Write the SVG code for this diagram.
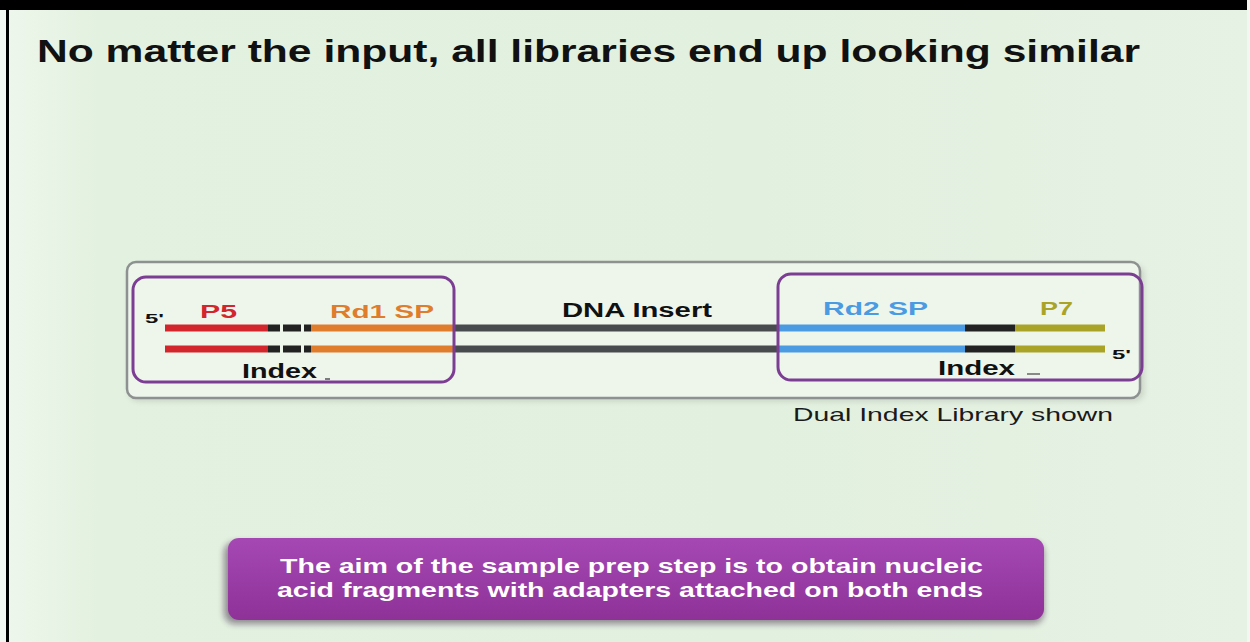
<svg xmlns="http://www.w3.org/2000/svg" width="1250" height="642" viewBox="0 0 1250 642">
  <defs>
    <linearGradient id="slideBg" x1="0" y1="0" x2="1" y2="0">
      <stop offset="0" stop-color="#eef7ec"/>
      <stop offset="0.08" stop-color="#e3f1e0"/>
      <stop offset="0.6" stop-color="#e2f0df"/>
      <stop offset="1" stop-color="#e6f2e4"/>
    </linearGradient>
    <linearGradient id="noteFill" x1="0" y1="0" x2="0" y2="1">
      <stop offset="0" stop-color="#a548b4"/>
      <stop offset="1" stop-color="#8e3298"/>
    </linearGradient>
    <filter id="softShadow" x="-5%" y="-20%" width="110%" height="150%">
      <feGaussianBlur stdDeviation="3"/>
    </filter>
  </defs>
  <style>
    .label { font-family: "Liberation Sans", Arial, sans-serif; font-weight: bold; }
    .plain { font-family: "Liberation Sans", Arial, sans-serif; }
    .adapter { fill: none; stroke: #7b3e92; stroke-width: 3; }
    .strand { stroke-width: 7; fill: none; }
    .p5 { stroke: #d3262c; }
    .rd1 { stroke: #e07d2c; }
    .insert { stroke: #484b4e; }
    .rd2 { stroke: #4b9be3; }
    .idx { stroke: #222222; }
    .p7 { stroke: #a9a427; }
  </style>

  <!-- slide background and frame -->
  <rect x="0" y="0" width="1250" height="642" fill="url(#slideBg)"/>
  <rect x="0" y="0" width="1250" height="10" fill="#000"/>
  <rect x="6" y="0" width="3" height="642" fill="#000"/>
  <rect x="0" y="0" width="6" height="642" fill="#f4f8f2"/>
  <rect x="0" y="0" width="8" height="10" fill="#000"/>
  <rect x="1247" y="0" width="3" height="642" fill="#f2f7f0"/>

  <g id="title">
    <text class="label" x="37" y="62" font-size="31" fill="#111" textLength="1103" lengthAdjust="spacingAndGlyphs">No matter the input, all libraries end up looking similar</text>
  </g>

  <!-- library frame -->
  <g id="library">
    <rect x="129" y="265" width="1015" height="136" rx="9" fill="#000" opacity="0.12" filter="url(#softShadow)"/>
    <rect x="127" y="262" width="1013" height="136" rx="9" fill="#eef6ec" stroke="#8d918f" stroke-width="2.5"/>
  </g>

  <!-- strands: top and bottom -->
  <g id="strands">
    <line class="strand p5" x1="165" y1="328" x2="268" y2="328"/>
    <line class="strand p5" x1="165" y1="349" x2="268" y2="349"/>
    <line class="strand idx" x1="268" y1="328" x2="280" y2="328"/>
    <line class="strand idx" x1="283" y1="328" x2="301" y2="328"/>
    <line class="strand idx" x1="304" y1="328" x2="311" y2="328"/>
    <line class="strand idx" x1="268" y1="349" x2="280" y2="349"/>
    <line class="strand idx" x1="283" y1="349" x2="301" y2="349"/>
    <line class="strand idx" x1="304" y1="349" x2="311" y2="349"/>
    <line class="strand rd1" x1="311" y1="328" x2="454" y2="328"/>
    <line class="strand rd1" x1="311" y1="349" x2="454" y2="349"/>
    <line class="strand insert" x1="454" y1="328" x2="779" y2="328"/>
    <line class="strand insert" x1="454" y1="349" x2="779" y2="349"/>
    <line class="strand rd2" x1="779" y1="328" x2="965" y2="328"/>
    <line class="strand rd2" x1="779" y1="349" x2="965" y2="349"/>
    <line class="strand idx" x1="965" y1="328" x2="1015" y2="328"/>
    <line class="strand idx" x1="965" y1="349" x2="1015" y2="349"/>
    <line class="strand p7" x1="1015" y1="328" x2="1105" y2="328"/>
    <line class="strand p7" x1="1015" y1="349" x2="1105" y2="349"/>
  </g>

  <g id="adapter-left">
    <rect class="adapter" x="133" y="277" width="321" height="105" rx="13"/>
    <text class="label" x="145" y="323" font-size="12" fill="#111" textLength="19" lengthAdjust="spacingAndGlyphs">5'</text>
    <text class="label" x="200" y="318" font-size="18" fill="#d3262c" textLength="37" lengthAdjust="spacingAndGlyphs">P5</text>
    <text class="label" x="330" y="318" font-size="18" fill="#e07d2c" textLength="104" lengthAdjust="spacingAndGlyphs">Rd1 SP</text>
    <text class="label" x="242" y="378" font-size="20" fill="#111" textLength="75" lengthAdjust="spacingAndGlyphs">Index</text>
    <line x1="325" y1="379" x2="330" y2="379" stroke="#555" stroke-width="1.5"/>
  </g>

  <g id="insert">
    <text class="label" x="562" y="317" font-size="20" fill="#111" textLength="150" lengthAdjust="spacingAndGlyphs">DNA Insert</text>
  </g>

  <g id="adapter-right">
    <rect class="adapter" x="778" y="274" width="364" height="106" rx="13"/>
    <text class="label" x="823" y="315" font-size="18" fill="#4b9be3" textLength="105" lengthAdjust="spacingAndGlyphs">Rd2 SP</text>
    <text class="label" x="1040" y="315" font-size="18" fill="#a9a427" textLength="33" lengthAdjust="spacingAndGlyphs">P7</text>
    <text class="label" x="1112" y="359" font-size="12" fill="#111" textLength="19" lengthAdjust="spacingAndGlyphs">5'</text>
    <text class="label" x="938" y="375" font-size="20" fill="#111" textLength="77" lengthAdjust="spacingAndGlyphs">Index</text>
    <line x1="1027" y1="374" x2="1040" y2="374" stroke="#666" stroke-width="1.5"/>
  </g>

  <g id="caption">
    <text class="plain" x="793" y="421" font-size="19" fill="#1a1a1a" textLength="320" lengthAdjust="spacingAndGlyphs">Dual Index Library shown</text>
  </g>

  <g id="note">
    <rect x="224" y="542" width="820" height="82" rx="11" fill="#2a1030" opacity="0.45" filter="url(#softShadow)"/>
    <rect x="228" y="538" width="816" height="82" rx="11" fill="url(#noteFill)"/>
    <text class="label" x="280" y="573" font-size="20" fill="#fff" textLength="703" lengthAdjust="spacingAndGlyphs">The aim of the sample prep step is to obtain nucleic</text>
    <text class="label" x="277" y="597" font-size="20" fill="#fff" textLength="706" lengthAdjust="spacingAndGlyphs">acid fragments with adapters attached on both ends</text>
  </g>
</svg>
